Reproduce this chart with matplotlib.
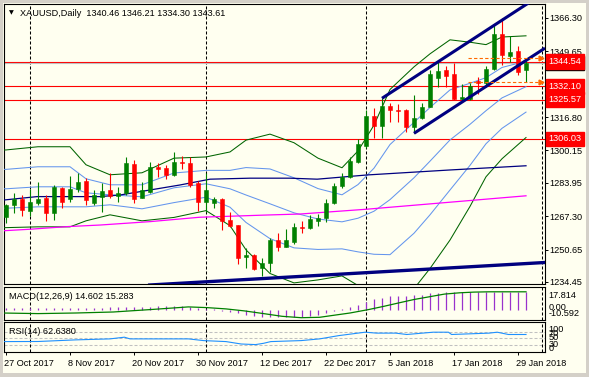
import matplotlib
matplotlib.use("Agg")
import matplotlib.pyplot as plt
import matplotlib.transforms as mtransforms
from matplotlib.patches import Rectangle
import numpy as np

plt.rcParams['font.family'] = ['Liberation Sans', 'DejaVu Sans']

# ---------------- data ----------------
title_text = "XAUUSD,Daily  1340.46 1346.21 1334.30 1343.61"
macd_title = "MACD(12,26,9) 14.602 15.283"
rsi_title = "RSI(14) 62.6380"

date_labels = ["27 Oct 2017", "8 Nov 2017", "20 Nov 2017", "30 Nov 2017", "12 Dec 2017",
               "22 Dec 2017", "5 Jan 2018", "17 Jan 2018", "29 Jan 2018"]
date_label_bars = [0, 8, 16, 24, 32, 40, 48, 56, 64]
separator_bars = [3, 25, 45, 67]

opens = [1266.9, 1272.9, 1275.8, 1270.1, 1273.8, 1276.3, 1269.1, 1281.3, 1275.8, 1280.8,
         1284.9, 1273.8, 1277.1, 1280.4, 1277.4, 1278.8, 1293.4, 1276.6, 1279.6, 1291.8,
         1291.3, 1287.9, 1294.3, 1294.1, 1284.1, 1274.6, 1274.1, 1275.8, 1265.4, 1262.9,
         1246.7, 1247.9, 1241.5, 1243.8, 1255.4, 1252.1, 1254.6, 1261.8, 1261.3, 1265.1,
         1266.3, 1273.8, 1282.4, 1286.8, 1294.6, 1302.4, 1317.4, 1312.4, 1322.5, 1320.4,
         1320.4, 1312.0, 1316.2, 1322.0, 1336.2, 1340.3, 1338.3, 1325.7, 1325.7, 1335.0,
         1333.6, 1340.7, 1358.3, 1347.5, 1350.0, 1340.46]
highs = [1273.4, 1279.0, 1277.9, 1280.8, 1284.2, 1277.9, 1282.9, 1281.8, 1287.4, 1288.8,
         1286.3, 1280.4, 1284.1, 1289.1, 1281.8, 1297.0, 1295.4, 1284.6, 1294.6, 1294.1,
         1292.9, 1299.6, 1297.4, 1296.8, 1285.1, 1289.1, 1277.1, 1276.3, 1269.4, 1262.9,
         1251.3, 1248.5, 1246.3, 1256.3, 1258.9, 1260.9, 1264.1, 1264.9, 1267.9, 1268.6,
         1276.0, 1284.1, 1288.9, 1297.0, 1306.1, 1320.4, 1321.4, 1326.2, 1323.7, 1323.4,
         1320.9, 1327.9, 1323.7, 1340.3, 1344.5, 1342.3, 1343.7, 1333.3, 1333.7, 1336.6,
         1342.1, 1362.8, 1366.3, 1357.1, 1352.3, 1346.21]
lows = [1263.9, 1268.8, 1267.4, 1267.4, 1272.9, 1264.9, 1265.4, 1271.3, 1274.6, 1279.6,
        1272.9, 1272.9, 1269.6, 1276.3, 1274.6, 1277.9, 1274.1, 1276.3, 1279.1, 1286.8,
        1285.8, 1287.4, 1290.8, 1282.1, 1270.1, 1269.6, 1271.3, 1260.6, 1261.9, 1243.5,
        1241.5, 1240.5, 1237.5, 1239.5, 1250.1, 1251.8, 1253.4, 1259.1, 1261.0, 1262.4,
        1264.6, 1273.4, 1281.3, 1286.4, 1293.9, 1301.4, 1306.6, 1306.4, 1314.5, 1314.5,
        1309.2, 1308.9, 1315.7, 1321.9, 1331.7, 1331.7, 1325.4, 1324.5, 1325.3, 1328.3,
        1331.9, 1340.2, 1342.8, 1344.3, 1337.8, 1334.30]
closes = [1272.9, 1275.8, 1270.4, 1274.6, 1275.8, 1269.1, 1281.8, 1274.6, 1280.8, 1284.6,
          1275.4, 1277.9, 1279.9, 1277.4, 1278.8, 1294.1, 1275.8, 1280.4, 1292.1, 1290.8,
          1287.9, 1294.6, 1293.8, 1282.9, 1274.6, 1280.4, 1275.8, 1265.1, 1262.4, 1246.5,
          1247.9, 1241.0, 1243.8, 1255.4, 1252.1, 1255.4, 1261.8, 1261.3, 1265.7, 1266.6,
          1274.1, 1282.4, 1286.8, 1295.1, 1303.4, 1317.4, 1312.4, 1322.4, 1320.4, 1319.9,
          1312.0, 1316.5, 1322.0, 1338.4, 1340.0, 1337.3, 1325.7, 1326.7, 1332.3, 1333.8,
          1340.7, 1358.3, 1347.8, 1349.5, 1339.5, 1343.61]

# Bollinger middle line and one-deviation width, read at sample bars
bb_bars = [-0.5, 0, 4, 8, 10, 13, 17, 21, 25, 28, 30, 33, 36, 39, 42, 44, 46, 48, 51, 53,
           55.5, 58, 60, 62, 65]
bb_mid = [1281, 1281, 1282, 1282, 1279, 1278, 1277, 1281.5, 1283.5, 1281.0, 1277.9, 1273.5,
          1269.0, 1265.9, 1264.5, 1266.3, 1269.8, 1275.6, 1286.5, 1294.8, 1305.4, 1313.2,
          1320.0, 1326.4, 1332.0]
bb_dev = [9.7, 9.7, 10, 10, 7, 5, 6, 7.4, 6.7, 9.2, 13.7, 17.4, 17.5, 15.2, 13.5, 16.8, 21.5,
          27.5, 27.7, 26.8, 25, 20.5, 16.5, 15.2, 12.7]

# slow moving averages (navy / magenta) read at sample bars
ma_navy_bars = [-0.5, 3.9, 11.75, 14.25, 18, 21.75, 25.5, 30.5, 35.5, 38.9, 45.1, 55.5, 65]
ma_navy = [1275.3, 1277.1, 1277.1, 1277.9, 1280.4, 1282.9, 1285.8, 1286.3, 1286.3, 1285.8,
           1287.9, 1290.4, 1292.5]
ma_mag_bars = [-0.5, 3, 7.6, 11.75, 18, 24.25, 32.6, 36.75, 45.1, 65]
ma_mag = [1260.0, 1260.8, 1262.1, 1262.9, 1264.6, 1266.8, 1267.9, 1268.4, 1270.8, 1277.5]

# drawn objects
hlines_red = [1344.54, 1332.10, 1325.57, 1306.03]
bid_price = 1343.61
channel_start_bars = [47, 51]
channel_start_prices = [1326.2, 1308.7]
channel_slope = 2.6
trend_bars = [17.75, 67.4]
trend_prices = [1232.9, 1244.2]
day_levels = [1346.21, 1334.30]
day_levels_start = 57.75
price_ticks = [1366.30, 1349.65, 1316.80, 1300.15, 1283.95, 1267.30, 1250.65, 1234.45]

macd_main = [1.3, 1.3, 1.5, 1.5, 1.5, 1.5, 1.6, 1.8, 1.8, 1.8, 1.9, 1.9, 2.0,
             2.2, 2.2, 2.5, 2.8, 2.8, 3.0, 3.3, 3.3, 3.5, 3.7, 3.0, 1.8,
             0.6, 0.2, -1.0, -2.0, -3.8, -5.0, -6.3, -7.2, -7.6, -7.7,
             -7.6, -7.3, -6.9, -6.4, -5.2, -3.6, -1.6, 0.2, 2.2, 4.8,
             8.0, 10.4, 12.1, 13.5, 14.1, 14.1, 14.5, 14.8, 16.2, 16.8,
             17.4, 17.4, 17.6, 17.6, 17.8, 17.8, 17.8, 17.8, 17.8, 17.5, 17.3]
signal_bars = [-0.5, 4, 8.7, 13.4, 18, 22.8, 25.1, 27.5, 29.8, 32.2, 34.5, 36.9, 39.2, 40.6,
               43, 45.3, 47.3, 49.1, 51, 52.9, 54.8, 56.7, 58.5, 60.4, 65]
signal_vals = [-3.4, -4.0, -3.4, -2.4, 0.0, 2.7, 2.0, 0.7, -1.3, -4.0, -6.7, -8.1, -7.7, -6.1,
               -3.4, 0.0, 3.4, 6.7, 10.1, 12.8, 15.5, 16.8, 17.5, 17.8, 17.8]
rsi_bars = [-0.5, 4, 8.7, 13, 14.8, 15.5, 18, 22.8, 24.7, 27.5, 29.4, 31.2, 32.2, 33.1, 36.9,
            39.2, 41.6, 44.9, 46.3, 48.7, 50.1, 53.4, 55.3, 55.7, 60.4, 61.4, 62.8, 65]
rsi_vals = [39.7, 40.0, 45.2, 48.4, 53.9, 48.4, 48.4, 48.4, 42.9, 39.7, 31.9, 30.0, 34.2, 39.7,
            42.9, 48.4, 59.0, 70.0, 67.0, 67.0, 62.6, 70.0, 70.0, 62.6, 67.0, 70.0, 62.6, 62.6]
rsi_levels = [70, 50, 30]

# ---------------- style / layout ----------------
W, H = 589, 377
FS = 6.6
IVORY = '#FFFFF0'
UP, DN = '#008000', '#FF0000'
LBLUE = '#6495ED'
BBGREEN = '#006400'
NAVY = '#000080'
DASH = (0, (2.9, 1.9))

fig = plt.figure(figsize=(W / 100, H / 100), dpi=100, facecolor='#D4D0C8')


def rect(x0, y0, x1, y1):
    return [x0 / W, 1 - y1 / H, (x1 - x0) / W, (y1 - y0) / H]


bg = fig.add_axes([0, 0, 1, 1])
bg.set_xlim(0, W)
bg.set_ylim(H, 0)
bg.axis('off')
bg.add_patch(Rectangle((3, 3), 583, 370, fc=IVORY, ec='none'))

XL = (-0.25, 67.375)


def style_panel(a):
    a.set_facecolor(IVORY)
    a.set_xlim(*XL)
    for s in a.spines.values():
        s.set_linewidth(0.8)
        s.set_color('black')
    a.tick_params(axis='x', bottom=False, labelbottom=False)


# ---------- main panel ----------
ax = fig.add_axes(rect(4, 4, 545, 284))
style_panel(ax)
ax.set_ylim(1233.45, 1373.29)
ax.yaxis.tick_right()
ax.set_yticks(price_ticks)
ax.set_yticklabels([f"{v:.2f}" for v in price_ticks], fontsize=FS)
ax.tick_params(axis='y', direction='out', length=2.2, width=0.7, pad=0.8, left=False, right=True)

for b in separator_bars:
    ax.axvline(b, color='black', lw=0.75, ls=DASH, zorder=1)

for p in hlines_red:
    ax.axhline(p, color='#FF0000', lw=0.8, zorder=2)
ax.axhline(bid_price, color='#C0C0C0', lw=0.8, zorder=2)

mid = np.array(bb_mid)
dev = np.array(bb_dev)
ax.plot(bb_bars, mid + 2 * dev, color=BBGREEN, lw=0.75, zorder=3)
ax.plot(bb_bars, mid - 2 * dev, color=BBGREEN, lw=0.75, zorder=3)
for k in (-1, 0, 1):
    ax.plot(bb_bars, mid + k * dev, color=LBLUE, lw=0.75, zorder=3)
ax.plot(ma_navy_bars, ma_navy, color=NAVY, lw=0.9, zorder=3)
ax.plot(ma_mag_bars, ma_mag, color='#FF00FF', lw=0.9, zorder=3)
ax.plot(trend_bars, trend_prices, color=NAVY, lw=2.4, zorder=3, solid_capstyle='butt')

# channel lines
for sb, sp in zip(channel_start_bars, channel_start_prices):
    xe = XL[1]
    ax.plot([sb, xe], [sp, sp + channel_slope * (xe - sb)], color=NAVY, lw=2.2, zorder=6,
            solid_capstyle='butt')

# candles
x = np.arange(len(opens))
o, h, l, c = map(np.array, (opens, highs, lows, closes))
cols = np.where(c >= o, UP, DN)
ax.vlines(x, l, h, colors=cols, lw=0.8, zorder=4)
ax.bar(x, np.maximum(np.abs(c - o), 0.25), bottom=np.minimum(o, c), width=0.6,
       color=cols, edgecolor=cols, linewidth=0.4, zorder=5)

# current day high / low levels
for p in day_levels:
    ax.plot([day_levels_start, XL[1] - 0.5], [p, p], color='#FF6A00', lw=0.8,
            ls=(0, (3, 2)), zorder=6)
    ax.plot([XL[1] - 0.45], [p], marker='>', color='#FF6A00', ms=3.5, zorder=7, clip_on=False)

# price labels
tr = mtransforms.blended_transform_factory(ax.transAxes, ax.transData)
ax.text(1.007, bid_price, "1343.61", transform=tr, fontsize=FS, color='white', va='center',
        ha='left', clip_on=False, zorder=8,
        bbox=dict(boxstyle='square,pad=0.28', fc='black', ec='black'))
for p in hlines_red:
    ax.text(1.007, p, f"{p:.2f}", transform=tr, fontsize=FS, color='white', va='center',
            ha='left', clip_on=False, zorder=9,
            bbox=dict(boxstyle='square,pad=0.28', fc='#FF0000', ec='#FF0000'))

ax.text(0.009, 0.967, "\u25BC", transform=ax.transAxes, fontsize=4.5, family='DejaVu Sans',
        va='center', ha='left')
ax.text(0.030, 0.967, title_text, transform=ax.transAxes, fontsize=FS, va='center', ha='left')

# ---------- MACD panel ----------
am = fig.add_axes(rect(4, 287, 545, 320))
style_panel(am)
am.set_ylim(-10.4, 22.6)
am.set_yticks([])
for b in separator_bars:
    am.axvline(b, color='black', lw=0.75, ls=DASH, zorder=1)
am.vlines(x, 0, macd_main, colors='#9932CC', lw=0.9, zorder=3)
am.plot(signal_bars, signal_vals, color='#008000', lw=0.9, zorder=4)
am.text(0.009, 0.70, macd_title, transform=am.transAxes, fontsize=FS, va='center', ha='left')
trm = mtransforms.blended_transform_factory(am.transAxes, am.transData)
am.text(1.007, 14.6, "17.814", transform=trm, fontsize=FS, va='center', clip_on=False)
am.text(1.007, 2.6, "0.00", transform=trm, fontsize=FS, va='center', clip_on=False)
am.text(1.007, -3.9, "-10.592", transform=trm, fontsize=FS, va='center', clip_on=False)

# ---------- RSI panel ----------
ar = fig.add_axes(rect(4, 322, 545, 352))
style_panel(ar)
ar.set_ylim(6.1, 102.9)
ar.set_yticks([])
for lv in rsi_levels:
    ar.axhline(lv, color='#C0C0C0', lw=0.75, ls=DASH, zorder=1)
for b in separator_bars:
    ar.axvline(b, color='black', lw=0.75, ls=DASH, zorder=2)
ar.plot(rsi_bars, rsi_vals, color='#1E90FF', lw=0.8, zorder=3)
ar.text(0.009, 0.68, rsi_title, transform=ar.transAxes, fontsize=FS, va='center', ha='left')
trr = mtransforms.blended_transform_factory(ar.transAxes, ar.transData)
for txt, v in [("100", 80.3), ("70", 67.4), ("50", 53.5), ("30", 31.9), ("0", 17.4)]:
    ar.text(1.007, v, txt, transform=trr, fontsize=FS, va='center', clip_on=False)

ar.set_xticks(date_label_bars)
ar.set_xticklabels(date_labels, fontsize=FS, ha='left')
ar.tick_params(axis='x', bottom=True, labelbottom=True, direction='out', length=2.2,
               width=0.7, pad=2.5)
off = mtransforms.ScaledTranslation(-2 / 100, 0, fig.dpi_scale_trans)
for lab in ar.get_xticklabels():
    lab.set_transform(lab.get_transform() + off)

fig.savefig("out.png", dpi=100, facecolor=fig.get_facecolor())
